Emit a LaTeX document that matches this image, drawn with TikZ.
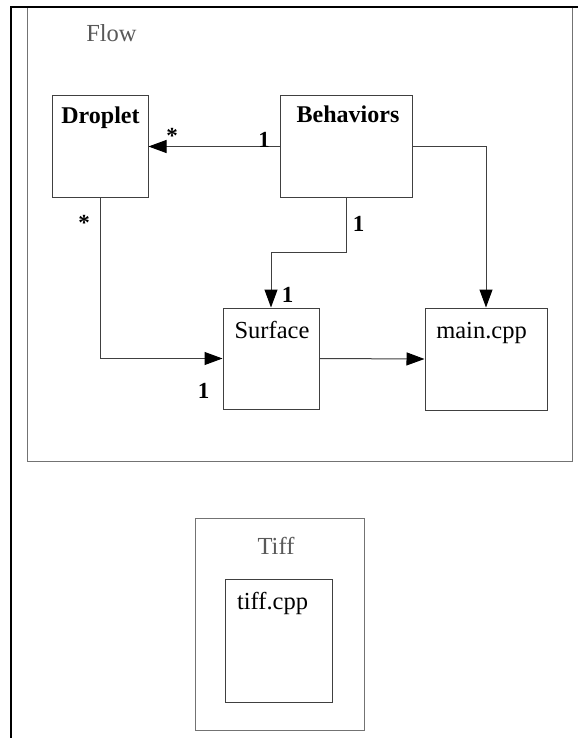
\documentclass[tikz,border=0pt]{standalone}
\usepackage{fontspec}
\setmainfont{Liberation Serif}
\usetikzlibrary{arrows.meta}
\definecolor{boxline}{gray}{0.25}
\definecolor{pkgline}{gray}{0.45}
\definecolor{pkgtext}{gray}{0.35}
\begin{document}
\begin{tikzpicture}[x=1pt,y=-1pt,
  cls/.style={draw=boxline, line width=1pt, fill=white, inner sep=0pt},
  pkg/.style={draw=pkgline, line width=1pt, inner sep=0pt},
  lbl/.style={inner sep=0pt, anchor=base, font=\fontsize{24.5}{28}\selectfont},
  lblb/.style={inner sep=0pt, anchor=base, font=\fontsize{24}{28}\selectfont\bfseries},
  mult/.style={inner sep=0pt, font=\fontsize{23}{28}\selectfont\bfseries},
  conn/.style={draw=boxline, line width=1pt, -{Triangle[length=18pt,width=13pt,color=black]}},
]
\useasboundingbox (0,0) rectangle (578,738);
\fill[white] (0,0) rectangle (578,738);
% packages
\node[pkg, minimum width=545pt, minimum height=453pt] (flow) at (299.5,234.5) {};
\node[lbl, text=pkgtext] (flowlbl) at (111.5,42) {Flow};
\node[pkg, minimum width=169pt, minimum height=212pt] (tiff) at (279.5,624) {};
\node[lbl, text=pkgtext] (tifflbl) at (276,554) {Tiff};
% outer frame
\draw[line width=2.4pt] (11,738) -- (11,7) -- (578,7);
% classes
\node[cls, minimum width=96pt, minimum height=101pt] (drop) at (100,146.5) {};
\node[lblb] (droplbl) at (100.5,124) {Droplet};
\node[cls, minimum width=132pt, minimum height=101pt] (beh) at (346,146.5) {};
\node[lblb] (behlbl) at (348,123) {Behaviors};
\node[cls, minimum width=96pt, minimum height=101pt] (surf) at (271,358.5) {};
\node[lbl] (surflbl) at (272,338) {Surface};
\node[cls, minimum width=122pt, minimum height=102pt] (main) at (486,359) {};
\node[lbl] (mainlbl) at (481.5,338) {main.cpp};
\node[cls, minimum width=107pt, minimum height=123pt] (tcpp) at (278.5,640.5) {};
\node[lbl] (tcpplbl) at (272.5,609) {tiff.cpp};
% connectors
\draw[conn] (beh.west) -- (drop.east);
\draw[conn] (drop.south) |- (surf.west);
\coordinate (bk) at (346,252);
\draw[conn] (beh.south) -- (bk) -| (surf.north);
\draw[conn] (beh.east) -| (main.north);
\draw[conn] (surf.east) -- (main.west);
% multiplicities
\node[mult] (m1) at (172,136) {*};
\node[mult] (m2) at (264,140) {1};
\node[mult] (m3) at (84,223) {*};
\node[mult] (m4) at (203.5,391) {1};
\node[mult] (m5) at (358.5,224) {1};
\node[mult] (m6) at (287.5,294.5) {1};
\end{tikzpicture}
\end{document}
